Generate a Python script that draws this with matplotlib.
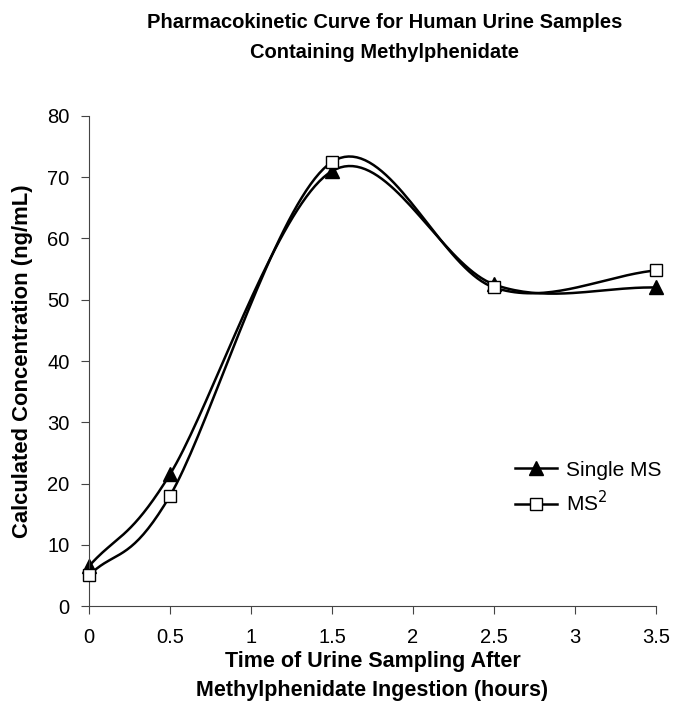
import numpy as np
import matplotlib
matplotlib.use("Agg")
import matplotlib.pyplot as plt
from matplotlib.lines import Line2D

plt.rcParams['font.family'] = ['Liberation Sans', 'DejaVu Sans']

time_h = [0, 0.5, 1.5, 2.5, 3.5]
single_ms = [6.5, 21.5, 71.0, 52.5, 52.0]
ms2 = [5.0, 18.0, 72.5, 52.0, 54.8]
x_ticks = [0, 0.5, 1, 1.5, 2, 2.5, 3, 3.5]
y_ticks = [0, 10, 20, 30, 40, 50, 60, 70, 80]


def smooth(x, y, n=40):
    # Catmull-Rom style smoothing (like spreadsheet "smoothed line")
    x = np.asarray(x, float); y = np.asarray(y, float)
    px = np.concatenate([[2 * x[0] - x[1]], x, [2 * x[-1] - x[-2]]])
    py = np.concatenate([[2 * y[0] - y[1]], y, [2 * y[-1] - y[-2]]])
    xs, ys = [], []
    t = np.linspace(0, 1, n)
    for i in range(1, len(px) - 2):
        p0, p1, p2, p3 = [np.array([px[j], py[j]]) for j in (i - 1, i, i + 1, i + 2)]
        c1 = p1 + (p2 - p0) / 6.0
        c2 = p2 - (p3 - p1) / 6.0
        tt = t[:, None]
        pts = ((1 - tt) ** 3) * p1 + 3 * ((1 - tt) ** 2) * tt * c1 + 3 * (1 - tt) * tt ** 2 * c2 + tt ** 3 * p2
        xs.extend(pts[:, 0]); ys.extend(pts[:, 1])
    return np.array(xs), np.array(ys)


fig = plt.figure(figsize=(6.73, 7.15), dpi=100)
ax = fig.add_axes([0.1322, 0.1524, 0.8426, 0.6854])

sx, sy = smooth(time_h, single_ms)
ax.plot(sx, sy, color='black', lw=1.8, clip_on=False)
ax.plot(time_h, single_ms, linestyle='none', marker='^', ms=10, color='black', clip_on=False)
mx, my = smooth(time_h, ms2)
ax.plot(mx, my, color='black', lw=1.8, clip_on=False)
ax.plot(time_h, ms2, linestyle='none', marker='s', ms=8.5, mfc='white', mec='black', mew=1.0, clip_on=False, zorder=3)

ax.set_xlim(0, 3.5)
ax.set_ylim(0, 80)
ax.set_xticks(x_ticks)
ax.set_xticklabels(['0', '0.5', '1', '1.5', '2', '2.5', '3', '3.5'], fontsize=14.5)
ax.set_yticks(y_ticks)
ax.set_yticklabels([str(v) for v in y_ticks], fontsize=14.5)
for s in ('top', 'right'):
    ax.spines[s].set_visible(False)
ax.spines['left'].set_color('#444444')
ax.spines['bottom'].set_color('#444444')
ax.tick_params(direction='out', length=6, width=0.8, color='#444444')
ax.tick_params(axis='x', pad=10)
ax.tick_params(axis='y', pad=8)

ax.set_xlabel('Time of Urine Sampling After\nMethylphenidate Ingestion (hours)',
              fontsize=15.5, fontweight='bold', labelpad=3, linespacing=1.5)
ax.set_ylabel('Calculated Concentration (ng/mL)', fontsize=15.8, fontweight='bold', labelpad=10)

fig.text(0.571, 0.982, 'Pharmacokinetic Curve for Human Urine Samples\nContaining Methylphenidate',
         ha='center', va='top', fontsize=14.5, fontweight='bold', linespacing=1.75)

handles = [Line2D([0], [0], color='black', lw=1.8, marker='^', ms=10),
           Line2D([0], [0], color='black', lw=1.8, marker='s', ms=8.5, mfc='white', mec='black')]
fig.legend(handles, ['Single MS', 'MS$^2$'], loc='center left', bbox_to_anchor=(0.765, 1 - 488 / 715),
           frameon=False, fontsize=15, handlelength=2.0, handletextpad=0.45, labelspacing=0.5,
           borderpad=0, borderaxespad=0)

fig.savefig('out.png', dpi=100)
